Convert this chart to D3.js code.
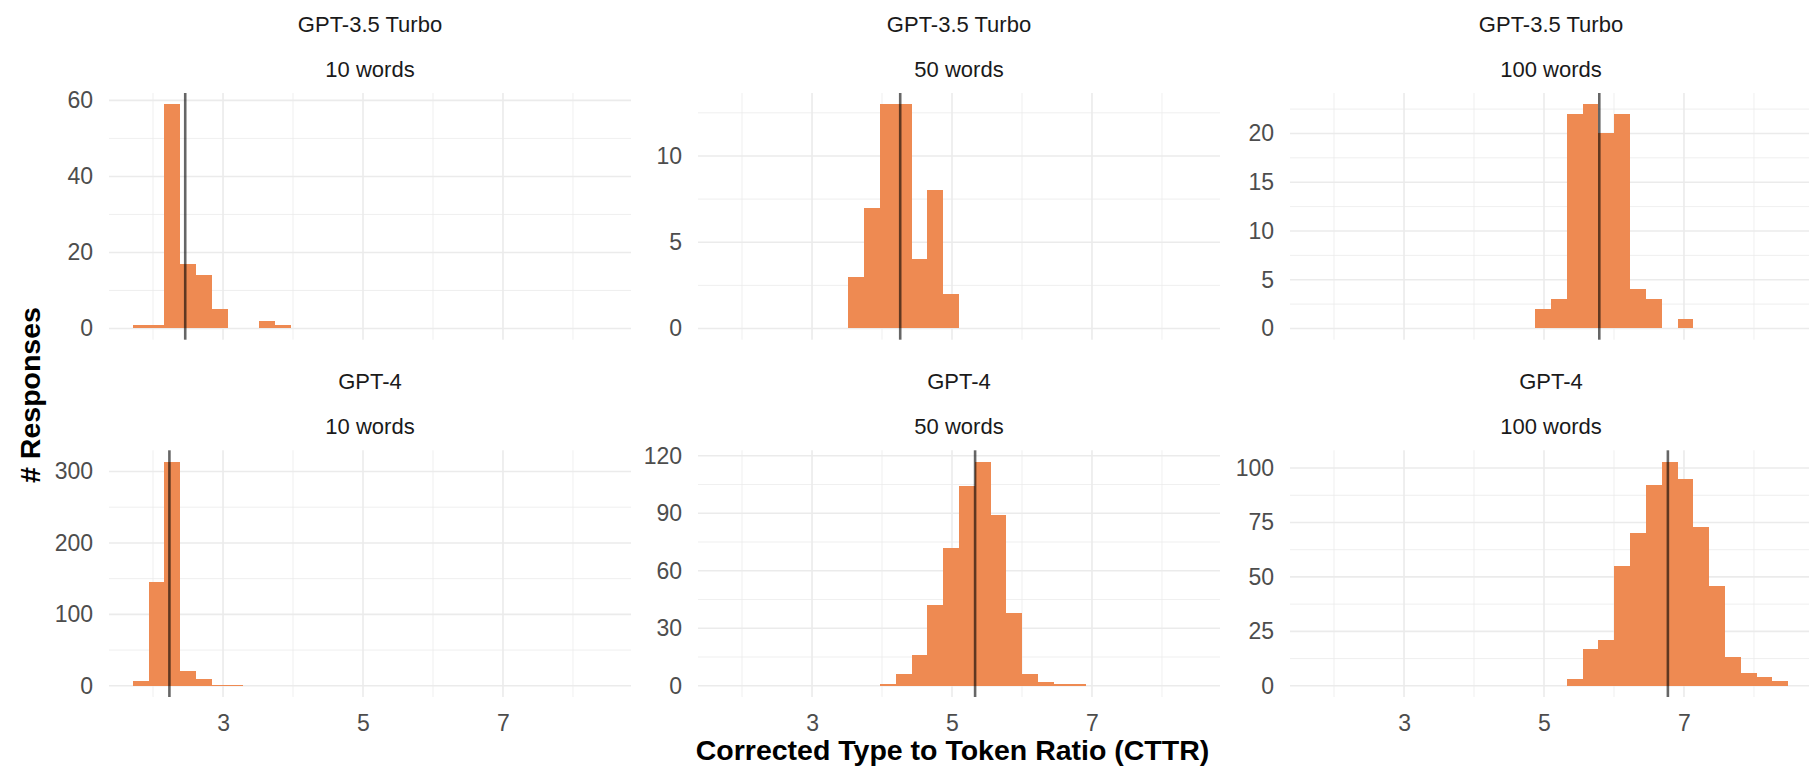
<!DOCTYPE html>
<html>
<head>
<meta charset="utf-8">
<script src="https://cdn.jsdelivr.net/npm/d3@7"></script>
<style>
  html, body { margin: 0; padding: 0; background: #ffffff; }
  svg { display: block; font-family: "Liberation Sans", Arial, Helvetica, sans-serif; }
</style>
</head>
<body>
<svg id="chart" width="1809" height="769"></svg>
<script>
// ---------------- data ----------------
const models = ["GPT-3.5 Turbo", "GPT-3.5 Turbo", "GPT-3.5 Turbo", "GPT-4", "GPT-4", "GPT-4"];
const lengths = ["10 words", "50 words", "100 words", "10 words", "50 words", "100 words"];

// shared histogram bin edges (30 bins)
const binEdges = [1.710, 1.936, 2.162, 2.388, 2.614, 2.840, 3.066, 3.292, 3.518, 3.744,
                  3.970, 4.196, 4.422, 4.648, 4.874, 5.100, 5.326, 5.552, 5.778, 6.004,
                  6.230, 6.456, 6.682, 6.908, 7.134, 7.360, 7.586, 7.812, 8.038, 8.264, 8.490];

// counts per bin
const gpt35_10  = [1, 1, 59, 17, 14, 5, 0, 0, 2, 1,  0, 0, 0, 0, 0, 0, 0, 0, 0, 0,  0, 0, 0, 0, 0, 0, 0, 0, 0, 0];
const gpt35_50  = [0, 0, 0, 0, 0, 0, 0, 0, 3, 7,  13, 13, 4, 8, 2, 0, 0, 0, 0, 0,  0, 0, 0, 0, 0, 0, 0, 0, 0, 0];
const gpt35_100 = [0, 0, 0, 0, 0, 0, 0, 0, 0, 0,  0, 0, 0, 0, 2, 3, 22, 23, 20, 22,  4, 3, 0, 1, 0, 0, 0, 0, 0, 0];
const gpt4_10   = [7, 146, 314, 21, 10, 1, 1, 0, 0, 0,  0, 0, 0, 0, 0, 0, 0, 0, 0, 0,  0, 0, 0, 0, 0, 0, 0, 0, 0, 0];
const gpt4_50   = [0, 0, 0, 0, 0, 0, 0, 0, 0, 0,  1, 6, 16, 42, 72, 104, 117, 89, 38, 6,  2, 1, 1, 0, 0, 0, 0, 0, 0, 0];
const gpt4_100  = [0, 0, 0, 0, 0, 0, 0, 0, 0, 0,  0, 0, 0, 0, 0, 0, 3, 17, 21, 55,  70, 92, 103, 95, 73, 46, 13, 6, 4, 2];

// mean CTTR per panel (vertical line)
const means = [2.46, 4.26, 5.79, 2.234, 5.33, 6.77];

// axis ticks
const xMajorTicks = [3, 5, 7];
const xMinorTicks = [2, 4, 6, 8];
const yMajorTicks = [[0, 20, 40, 60], [0, 5, 10], [0, 5, 10, 15, 20],
                     [0, 100, 200, 300], [0, 30, 60, 90, 120], [0, 25, 50, 75, 100]];
const yMinorTicks = [[10, 30, 50], [2.5, 7.5, 12.5], [2.5, 7.5, 12.5, 17.5, 22.5],
                     [50, 150, 250], [15, 45, 75, 105], [12.5, 37.5, 62.5, 87.5]];

const xTitle = "Corrected Type to Token Ratio (CTTR)";
const yTitle = "# Responses";

// ---------------- layout ----------------
const counts = [gpt35_10, gpt35_50, gpt35_100, gpt4_10, gpt4_50, gpt4_100];
const panelLeft = [109, 698, 1290];
const panelTop = [93, 450.3];
const PW = 522, PH = 246.7;
const barColor = "#EE8A52";
const gridColor = "#EBEBEB";

const svg = d3.select("#chart");

const span = binEdges[binEdges.length - 1] - binEdges[0];
const x = d3.scaleLinear()
  .domain([binEdges[0] - 0.05 * span, binEdges[binEdges.length - 1] + 0.05 * span])
  .range([0, PW]);

counts.forEach((c, i) => {
  const col = i % 3, row = Math.floor(i / 3);
  const g = svg.append("g").attr("transform", `translate(${panelLeft[col]},${panelTop[row]})`);
  const maxC = d3.max(c);
  const y = d3.scaleLinear().domain([-0.05 * maxC, 1.05 * maxC]).range([PH, 0]);

  // minor grid
  g.selectAll(".ymin").data(yMinorTicks[i].filter(v => v <= y.domain()[1])).enter()
    .append("line").attr("x1", 0).attr("x2", PW)
    .attr("y1", d => y(d)).attr("y2", d => y(d))
    .attr("stroke", gridColor).attr("stroke-width", 0.8);
  g.selectAll(".xmin").data(xMinorTicks).enter()
    .append("line").attr("y1", 0).attr("y2", PH)
    .attr("x1", d => x(d)).attr("x2", d => x(d))
    .attr("stroke", gridColor).attr("stroke-width", 0.8);
  // major grid
  g.selectAll(".ymaj").data(yMajorTicks[i]).enter()
    .append("line").attr("x1", 0).attr("x2", PW)
    .attr("y1", d => y(d)).attr("y2", d => y(d))
    .attr("stroke", gridColor).attr("stroke-width", 1.6);
  g.selectAll(".xmaj").data(xMajorTicks).enter()
    .append("line").attr("y1", 0).attr("y2", PH)
    .attr("x1", d => x(d)).attr("x2", d => x(d))
    .attr("stroke", gridColor).attr("stroke-width", 1.6);

  // bars
  const bins = c.map((v, k) => ({ x0: binEdges[k], x1: binEdges[k + 1], n: v })).filter(b => b.n > 0);
  g.selectAll(".bar").data(bins).enter().append("rect")
    .attr("x", d => x(d.x0))
    .attr("width", d => x(d.x1) - x(d.x0))
    .attr("y", d => y(d.n))
    .attr("height", d => y(0) - y(d.n))
    .attr("fill", barColor)
    .attr("shape-rendering", "crispEdges");

  // mean line
  g.append("line")
    .attr("x1", x(means[i])).attr("x2", x(means[i]))
    .attr("y1", 0).attr("y2", PH)
    .attr("stroke", "#000").attr("stroke-opacity", 0.6).attr("stroke-width", 2.6);

  // y axis
  const ya = g.append("g").call(d3.axisLeft(y).tickValues(yMajorTicks[i]).tickSize(0).tickPadding(16));
  ya.select(".domain").remove();
  ya.selectAll("text").attr("font-size", 23).attr("fill", "#4D4D4D")
    .attr("font-family", "Liberation Sans, Arial, sans-serif");

  // x axis (bottom row only)
  if (row === 1) {
    const xa = g.append("g").attr("transform", `translate(0,${PH})`)
      .call(d3.axisBottom(x).tickValues(xMajorTicks).tickSize(0).tickPadding(18));
    xa.select(".domain").remove();
    xa.selectAll("text").attr("font-size", 23).attr("fill", "#4D4D4D")
      .attr("font-family", "Liberation Sans, Arial, sans-serif");
  }

  // strip labels
  g.append("text").attr("x", PW / 2).attr("y", -61).attr("text-anchor", "middle")
    .attr("font-size", 22).attr("fill", "#1A1A1A").text(models[i]);
  g.append("text").attr("x", PW / 2).attr("y", -16).attr("text-anchor", "middle")
    .attr("font-size", 22).attr("fill", "#1A1A1A").text(lengths[i]);
});

// axis titles
svg.append("text")
  .attr("x", (panelLeft[0] + panelLeft[2] + PW) / 2 - 8)
  .attr("y", 760)
  .attr("text-anchor", "middle")
  .attr("font-size", 28.5).attr("font-weight", "bold").attr("fill", "#000")
  .text(xTitle);

svg.append("text")
  .attr("transform", `translate(40,${(panelTop[0] + panelTop[1] + PH) / 2}) rotate(-90)`)
  .attr("text-anchor", "middle")
  .attr("font-size", 28.5).attr("font-weight", "bold").attr("fill", "#000")
  .text(yTitle);
</script>
</body>
</html>
